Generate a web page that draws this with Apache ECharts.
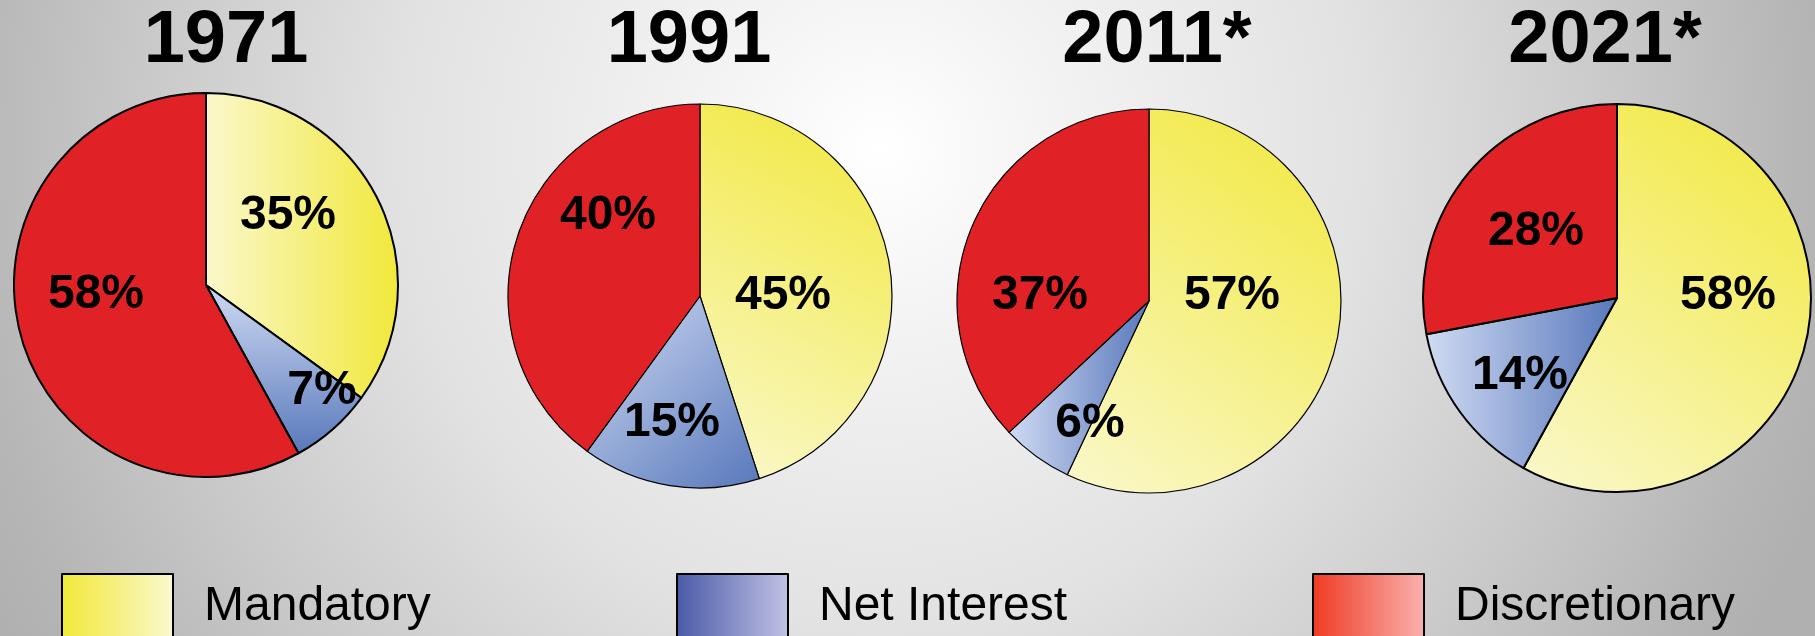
<!DOCTYPE html>
<html>
<head>
<meta charset="utf-8">
<script src="https://cdn.jsdelivr.net/npm/echarts@6/dist/echarts.min.js"></script>
<style>
  html, body { margin: 0; padding: 0; }
  #chart {
    width: 1815px; height: 636px;
    background: radial-gradient(circle 1000px at 880px 150px, #ffffff 0%, #f3f3f3 18%, #e2e2e2 48%, #cbcbcb 72%, #b6b6b6 92%, #b0b0b0 100%);
  }
</style>
</head>
<body>
<div id="chart"></div>
<script>
// ---- data ----
const categories = ['Mandatory', 'Net Interest', 'Discretionary'];
const years = ['1971', '1991', '2011*', '2021*'];
const mandatory = [35, 45, 57, 58];
const netInterest = [7, 15, 6, 14];
const discretionary = [58, 40, 37, 28];

// ---- layout / style ----
const pieCenters = [[206, 285], [700, 296], [1149, 301], [1617, 298]];
const pieRadius = [192, 192, 192, 194];
const titleX = [226, 689, 1157, 1605];
const titleY = 42;
const borderWidths = [2, 1.2, 1.2, 2];
// label offsets relative to pie centre: [mandatory, net interest, discretionary]
const labelOffsets = [
  [[82, -69], [116, 106], [-110, 10]],
  [[83, 0], [-28, 127], [-92, -80]],
  [[83, -5], [-59, 123], [-109, -5]],
  [[111, -2], [-97, 78], [-81, -66]]
];
const YELLOW_LIGHT = '#faf8cc', YELLOW_DARK = '#f1e83a';
const BLUE_LIGHT = '#d0dbf3', BLUE_DARK = '#5878bb';
const RED = '#e02226';
// gradient directions [x, y, x2, y2] from light to dark
const yellowDir = [[0, 0, 1, 0], [0, 1, 1, 0], [0, 1, 1, 0], [0, 1, 1, 0]];
const blueDir = [[0, 0, 0, 1], [0, 0, 1, 1], [0, 0, 1, 0], [0, 0, 1, 0]];

const FONT = 'Arial, "Liberation Sans", Helvetica, sans-serif';

function lg(d, c0, c1) {
  return new echarts.graphic.LinearGradient(d[0], d[1], d[2], d[3], [
    { offset: 0, color: c0 }, { offset: 1, color: c1 }
  ]);
}

const series = years.map((y, i) => ({
  type: 'pie',
  name: y,
  center: pieCenters[i],
  radius: [0, pieRadius[i]],
  startAngle: 90,
  clockwise: true,
  avoidLabelOverlap: false,
  silent: true,
  animation: false,
  itemStyle: { borderColor: '#000', borderWidth: borderWidths[i] },
  label: {
    show: true,
    position: 'inside',
    formatter: p => p.value + '%',
    fontFamily: FONT,
    fontSize: 48,
    fontWeight: 'bold',
    color: '#000'
  },
  labelLine: { show: false },
  labelLayout: function (params) {
    const off = labelOffsets[i][params.dataIndex];
    return {
      x: pieCenters[i][0] + off[0],
      y: pieCenters[i][1] + off[1],
      align: 'center',
      verticalAlign: 'middle'
    };
  },
  emphasis: { disabled: true },
  data: [
    { name: categories[0], value: mandatory[i], itemStyle: { color: lg(yellowDir[i], YELLOW_LIGHT, YELLOW_DARK) } },
    { name: categories[1], value: netInterest[i], itemStyle: { color: lg(blueDir[i], BLUE_LIGHT, BLUE_DARK) } },
    { name: categories[2], value: discretionary[i], itemStyle: { color: RED } }
  ]
}));

const legendSwatch = [
  ['#f1e838', '#faf9cf'],
  ['#4a5aa8', '#c2c2e6'],
  ['#f03a22', '#f9b2b0']
];
const legendLeft = [61, 676, 1312];

const legends = categories.map((c, k) => ({
  left: legendLeft[k],
  top: 573,
  padding: 0,
  orient: 'horizontal',
  selectedMode: false,
  itemWidth: 111,
  itemHeight: 66,
  textStyle: {
    fontFamily: FONT,
    fontSize: 48,
    color: '#000',
    padding: [0, 0, 0, 26]
  },
  data: [{
    name: c,
    icon: 'rect',
    itemStyle: {
      color: lg([0, 0, 1, 0], legendSwatch[k][0], legendSwatch[k][1]),
      borderColor: '#000',
      borderWidth: 2
    }
  }]
}));

const titles = years.map((y, i) => ({
  type: 'text',
  x: titleX[i],
  y: titleY,
  silent: true,
  style: {
    text: y,
    fontFamily: FONT,
    fontSize: 74,
    fontWeight: 'bold',
    fill: '#000',
    align: 'center',
    verticalAlign: 'middle'
  }
}));

const chart = echarts.init(document.getElementById('chart'), null, { renderer: 'canvas' });
chart.setOption({
  backgroundColor: 'transparent',
  animation: false,
  legend: legends,
  graphic: titles,
  series: series
});
</script>
</body>
</html>
